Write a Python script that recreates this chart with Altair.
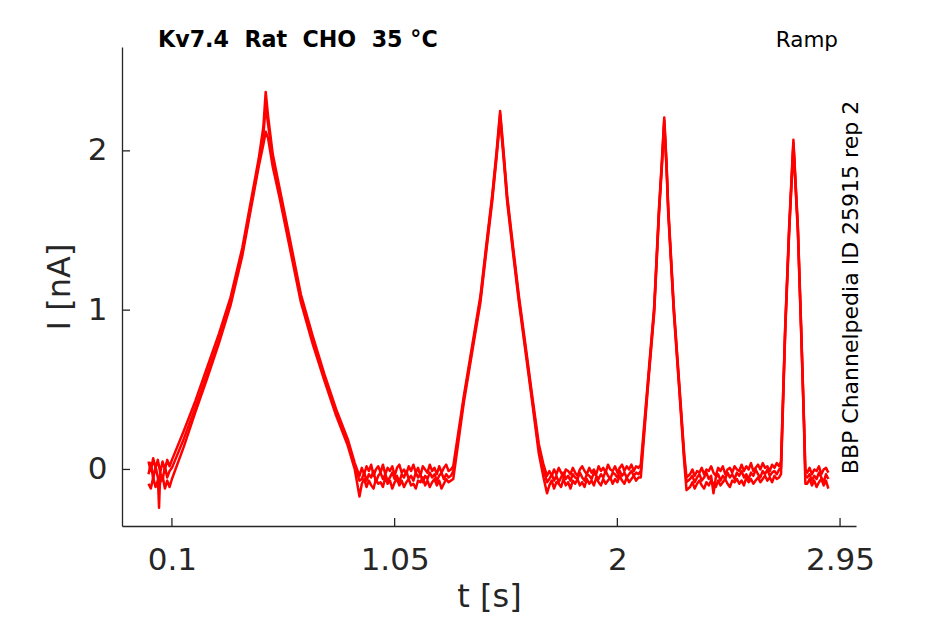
import altair as alt
import pandas as pd

# ---- data (time in s, current in nA) ----
T = [
    # pre-ramp baseline
    0.000, 0.010, 0.020, 0.030, 0.040, 0.045, 0.050, 0.060, 0.070, 0.080, 0.090, 0.100,
    # ramp 1 up / down
    0.150, 0.200, 0.250, 0.300, 0.350, 0.400, 0.440, 0.470, 0.490, 0.500,
    0.510, 0.530, 0.560, 0.600, 0.650, 0.700, 0.750, 0.800, 0.850, 0.880, 0.900,
    # baseline
    0.91, 0.92, 0.93, 0.94, 0.95, 0.96, 0.97, 0.98, 0.99, 1.00,
    1.01, 1.02, 1.03, 1.04, 1.05, 1.06, 1.07, 1.08, 1.09, 1.10,
    1.11, 1.12, 1.13, 1.14, 1.15, 1.16, 1.17, 1.18, 1.19, 1.20,
    1.21, 1.22, 1.23, 1.24, 1.25, 1.26, 1.27, 1.28, 1.29,
    # ramp 2
    1.300, 1.345, 1.380, 1.416, 1.445, 1.466, 1.485, 1.500,
    1.515, 1.530, 1.555, 1.580, 1.610, 1.637, 1.665, 1.685, 1.700,
    # baseline
    1.71, 1.72, 1.73, 1.74, 1.75, 1.76, 1.77, 1.78, 1.79, 1.80,
    1.81, 1.82, 1.83, 1.84, 1.85, 1.86, 1.87, 1.88, 1.89, 1.90,
    1.91, 1.92, 1.93, 1.94, 1.95, 1.96, 1.97, 1.98, 1.99, 2.00,
    2.01, 2.02, 2.03, 2.04, 2.05, 2.06, 2.07, 2.08, 2.09,
    # ramp 3
    2.100, 2.130, 2.157, 2.178, 2.190, 2.200,
    2.210, 2.217, 2.241, 2.265, 2.285, 2.295,
    # baseline
    2.31, 2.32, 2.33, 2.34, 2.35, 2.36, 2.37, 2.38, 2.39, 2.40,
    2.41, 2.42, 2.43, 2.44, 2.45, 2.46, 2.47, 2.48, 2.49, 2.50,
    2.51, 2.52, 2.53, 2.54, 2.55, 2.56, 2.57, 2.58, 2.59, 2.60,
    2.61, 2.62, 2.63, 2.64, 2.65, 2.66, 2.67, 2.68, 2.69,
    # ramp 4
    2.698, 2.716, 2.733, 2.751,
    2.770, 2.784, 2.796, 2.802,
    # final baseline
    2.81, 2.82, 2.83, 2.84, 2.85, 2.86, 2.87, 2.88, 2.89, 2.90,
]

I_SWEEP1 = [
    0.05, -0.01, 0.07, 0.01, 0.06, 0.02, -0.02, 0.05, 0.00, 0.06, 0.02, 0.06,
    0.24, 0.43, 0.64, 0.85, 1.08, 1.39, 1.71, 1.95, 2.15, 2.37,
    2.22, 1.98, 1.76, 1.47, 1.10, 0.84, 0.60, 0.38, 0.19, 0.04, -0.04,
    0.01, -0.03, 0.02, -0.01, 0.03, -0.04, 0.00, 0.02, -0.02, 0.03,
    -0.03, 0.01, -0.01, 0.02, -0.04, 0.01, 0.03, -0.02, 0.00, -0.03,
    0.02, -0.01, 0.03, -0.02, 0.01, -0.04, 0.02, 0.00, -0.02, 0.03,
    -0.01, 0.01, -0.03, 0.02, -0.02, 0.01, 0.03, -0.01, 0.00,
    0.02, 0.46, 0.77, 1.09, 1.46, 1.72, 2.00, 2.25,
    1.99, 1.72, 1.40, 1.09, 0.76, 0.46, 0.16, 0.03, -0.04,
    -0.01, -0.04, 0.00, -0.03, 0.01, -0.02, -0.05, 0.00, -0.01, -0.03,
    0.01, -0.02, -0.04, 0.00, 0.02, -0.01, -0.03, 0.01, -0.02, 0.00,
    -0.03, 0.02, -0.01, 0.01, -0.02, 0.03, 0.00, -0.01, 0.02, -0.02,
    0.01, 0.03, -0.01, 0.02, 0.00, 0.03, -0.01, 0.02, 0.01,
    0.03, 0.55, 1.02, 1.65, 1.94, 2.21,
    1.92, 1.65, 1.02, 0.52, 0.10, -0.05,
    -0.03, 0.00, -0.04, -0.01, -0.02, 0.01, -0.03, 0.00, -0.01, 0.02,
    -0.02, -0.04, 0.01, -0.01, 0.02, -0.03, 0.00, 0.01, -0.02, 0.02,
    0.00, -0.01, 0.03, -0.01, 0.02, 0.00, 0.04, -0.01, 0.01, 0.03,
    0.00, 0.04, 0.01, 0.02, -0.01, 0.03, 0.01, 0.04, 0.02,
    0.05, 0.90, 1.53, 2.07,
    1.53, 0.90, 0.32, 0.00,
    -0.02, 0.01, -0.03, 0.00, -0.01, 0.02, -0.03, 0.00, 0.01, -0.02,
]

I_SWEEP2 = [
    -0.03, 0.04, -0.06, 0.02, -0.05, -0.24, -0.02, -0.07, 0.02, -0.05, -0.01, 0.01,
    0.19, 0.39, 0.60, 0.81, 1.05, 1.36, 1.68, 1.92, 2.10, 2.28,
    2.17, 1.94, 1.73, 1.44, 1.07, 0.81, 0.58, 0.36, 0.17, 0.02, -0.07,
    -0.06, -0.02, -0.07, -0.03, -0.05, -0.01, -0.08, -0.04, -0.02, -0.06,
    -0.03, -0.07, -0.05, -0.02, -0.06, -0.04, -0.08, -0.03, -0.05, -0.01,
    -0.06, -0.04, -0.07, -0.02, -0.05, -0.03, -0.08, -0.04, -0.06, -0.02,
    -0.05, -0.03, -0.07, -0.04, -0.02, -0.06, -0.03, -0.05, -0.04,
    -0.01, 0.44, 0.75, 1.07, 1.44, 1.70, 1.98, 2.23,
    1.97, 1.70, 1.38, 1.07, 0.74, 0.44, 0.13, 0.00, -0.08,
    -0.06, -0.03, -0.07, -0.04, -0.08, -0.05, -0.02, -0.06, -0.04, -0.07,
    -0.03, -0.05, -0.06, -0.02, -0.05, -0.07, -0.03, -0.04, -0.06, -0.02,
    -0.04, -0.06, -0.03, -0.05, -0.01, -0.04, -0.06, -0.02, -0.03, -0.05,
    -0.01, -0.04, -0.02, -0.05, -0.03, -0.01, -0.04, -0.02, -0.03,
    -0.01, 0.53, 1.00, 1.63, 1.92, 2.19,
    1.90, 1.63, 1.00, 0.50, 0.08, -0.08,
    -0.06, -0.04, -0.08, -0.05, -0.03, -0.07, -0.05, -0.02, -0.06, -0.04,
    -0.15, -0.05, -0.03, -0.07, -0.04, -0.06, -0.02, -0.05, -0.03, -0.06,
    -0.02, -0.04, -0.01, -0.05, -0.03, -0.06, -0.02, -0.04, 0.00, -0.03,
    -0.05, -0.01, -0.03, 0.00, -0.04, -0.02, -0.01, -0.03, 0.00,
    0.01, 0.88, 1.51, 2.05,
    1.51, 0.88, 0.30, -0.04,
    -0.05, -0.03, -0.07, -0.04, -0.06, -0.02, -0.05, -0.08, -0.03, -0.06,
]

I_SWEEP3 = [
    -0.09, -0.12, -0.05, -0.11, -0.07, -0.12, -0.08, -0.04, -0.12, -0.07, -0.11, -0.06,
    0.14, 0.36, 0.57, 0.79, 1.03, 1.34, 1.66, 1.90, 2.04, 2.12,
    2.08, 1.90, 1.70, 1.41, 1.05, 0.79, 0.56, 0.34, 0.15, 0.00, -0.17,
    -0.09, -0.06, -0.11, -0.07, -0.10, -0.12, -0.06, -0.09, -0.08, -0.11,
    -0.05, -0.09, -0.07, -0.12, -0.08, -0.06, -0.10, -0.07, -0.11, -0.08,
    -0.06, -0.10, -0.09, -0.12, -0.07, -0.08, -0.05, -0.10, -0.07, -0.11,
    -0.08, -0.06, -0.10, -0.07, -0.12, -0.09, -0.06, -0.08, -0.07,
    -0.06, 0.42, 0.73, 1.05, 1.42, 1.68, 1.96, 2.20,
    1.95, 1.68, 1.36, 1.05, 0.72, 0.42, 0.10, -0.05, -0.15,
    -0.10, -0.07, -0.12, -0.08, -0.09, -0.11, -0.06, -0.10, -0.08, -0.12,
    -0.07, -0.09, -0.06, -0.10, -0.08, -0.11, -0.06, -0.09, -0.07, -0.10,
    -0.05, -0.08, -0.10, -0.06, -0.09, -0.07, -0.05, -0.09, -0.06, -0.08,
    -0.04, -0.07, -0.09, -0.05, -0.08, -0.06, -0.04, -0.07, -0.05,
    -0.05, 0.51, 0.98, 1.61, 1.90, 2.17,
    1.88, 1.61, 0.98, 0.48, 0.05, -0.13,
    -0.11, -0.08, -0.12, -0.09, -0.07, -0.10, -0.12, -0.08, -0.10, -0.07,
    -0.09, -0.11, -0.07, -0.10, -0.08, -0.06, -0.09, -0.11, -0.07, -0.08,
    -0.06, -0.09, -0.07, -0.10, -0.05, -0.08, -0.06, -0.09, -0.07, -0.05,
    -0.08, -0.06, -0.04, -0.07, -0.05, -0.08, -0.04, -0.06, -0.05,
    -0.03, 0.86, 1.49, 2.03,
    1.49, 0.86, 0.28, -0.09,
    -0.09, -0.06, -0.10, -0.07, -0.11, -0.08, -0.06, -0.10, -0.07, -0.12,
]

X_TICKS = [0.1, 1.05, 2, 2.95]
Y_TICKS = [0, 1, 2]
X_DOMAIN = [-0.113, 3.018]
Y_DOMAIN = [-0.355, 2.652]

TITLE = "Kv7.4\u00a0\u00a0Rat\u00a0\u00a0CHO\u00a0\u00a035 °C"
PROTOCOL = "Ramp"
SOURCE = "BBP Channelpedia ID 25915 rep 2"

# ---- tables ----
rows = []
for name, vals in [("1", I_SWEEP1), ("2", I_SWEEP2), ("3", I_SWEEP3)]:
    for t, v in zip(T, vals):
        rows.append({"t": t, "I": v, "sweep": name, "order": len(rows)})
df = pd.DataFrame(rows)

W, H = 734, 479
FONT = "DejaVu Sans"
INK = "#262626"

xscale = alt.Scale(domain=X_DOMAIN, nice=False, zero=False)
yscale = alt.Scale(domain=Y_DOMAIN, nice=False, zero=False)

lines = alt.Chart(df).mark_line(color="#ff0000", strokeWidth=2.5, clip=True,
                                strokeJoin="round").encode(
    x=alt.X("t:Q", scale=xscale,
            axis=alt.Axis(values=X_TICKS, format=".2~f", title="t [s]",
                          titleY=80, titleBaseline="alphabetic")),
    y=alt.Y("I:Q", scale=yscale,
            axis=alt.Axis(values=Y_TICKS, format="d", title="I [nA]",
                          titleX=-53, titleBaseline="alphabetic", titleAngle=270)),
    detail="sweep:N",
    order="order:Q",
)

xticks = alt.Chart(pd.DataFrame({"t": X_TICKS})).mark_rule(color=INK, strokeWidth=1.3).encode(
    x=alt.X("t:Q", scale=xscale), y=alt.value(H), y2=alt.value(H - 8)
)
yticks = alt.Chart(pd.DataFrame({"v": Y_TICKS})).mark_rule(color=INK, strokeWidth=1.3).encode(
    y=alt.Y("v:Q", scale=yscale), x=alt.value(0), x2=alt.value(8)
)

title_txt = alt.Chart(pd.DataFrame({"s": [TITLE]})).mark_text(
    font=FONT, fontSize=22.2, fontWeight="bold", color="black",
    align="left", baseline="alphabetic"
).encode(x=alt.value(36), y=alt.value(0), text="s:N")

ramp_txt = alt.Chart(pd.DataFrame({"s": [PROTOCOL]})).mark_text(
    font=FONT, fontSize=21.5, color="black", align="right", baseline="alphabetic"
).encode(x=alt.value(716), y=alt.value(0), text="s:N")

src_txt = alt.Chart(pd.DataFrame({"s": [SOURCE]})).mark_text(
    font=FONT, fontSize=22, color="black", align="center", baseline="alphabetic", angle=270
).encode(x=alt.value(735.5), y=alt.value(240.5), text="s:N")

chart = alt.layer(lines, xticks, yticks, title_txt, ramp_txt, src_txt).properties(
    width=W, height=H,
    autosize=alt.AutoSizeParams(type="none"),
    padding={"left": 114, "top": 39, "right": 70, "bottom": 90},
).configure_view(stroke=None).configure_axis(
    grid=False, domainColor=INK, domainWidth=1.3, tickSize=0,
    labelFont=FONT, labelFontSize=31, labelColor=INK,
    titleFont=FONT, titleFontSize=32, titleColor=INK, titleFontWeight="normal",
).configure_axisX(labelPadding=19).configure_axisY(labelPadding=15)

chart.save("out.html", embed_options={"renderer": "svg", "actions": False})
